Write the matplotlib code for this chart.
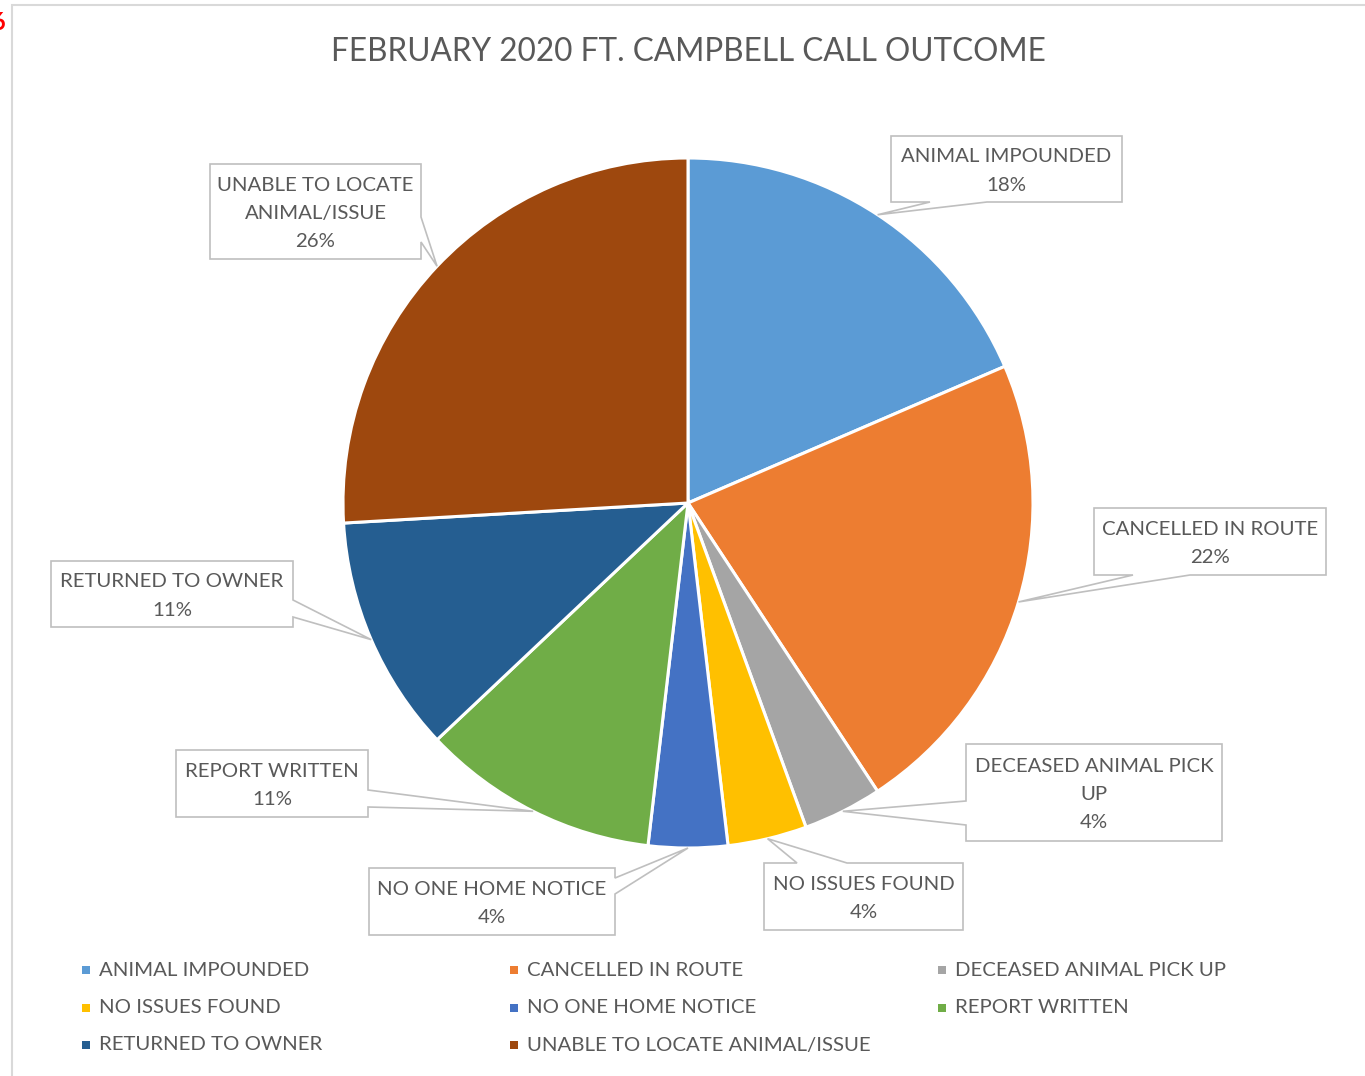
import matplotlib.pyplot as plt
from matplotlib.patches import Polygon, Rectangle
import numpy as np

# data
categories = [
    "ANIMAL IMPOUNDED",
    "CANCELLED IN ROUTE",
    "DECEASED ANIMAL PICK UP",
    "NO ISSUES FOUND",
    "NO ONE HOME NOTICE",
    "REPORT WRITTEN",
    "RETURNED TO OWNER",
    "UNABLE TO LOCATE ANIMAL/ISSUE",
]
counts = [5, 6, 1, 1, 1, 3, 3, 7]
pct_labels = ["18%", "22%", "4%", "4%", "4%", "11%", "11%", "26%"]
label_names = [
    "ANIMAL IMPOUNDED",
    "CANCELLED IN ROUTE",
    "DECEASED ANIMAL PICK\nUP",
    "NO ISSUES FOUND",
    "NO ONE HOME NOTICE",
    "REPORT WRITTEN",
    "RETURNED TO OWNER",
    "UNABLE TO LOCATE\nANIMAL/ISSUE",
]
colors = ["#5B9BD5", "#ED7D31", "#A5A5A5", "#FFC000",
          "#4472C4", "#70AD47", "#255E91", "#9E480E"]

# callout boxes (pixel layout): box, side of pointer, pointer base span
callouts = [
    ((891, 136, 1122, 202), "bottom", 930, 987),
    ((1094, 508, 1326, 575), "bottom", 1133, 1190),
    ((966, 744, 1222, 841), "left", 801, 825),
    ((764, 863, 963, 930), "top", 797, 847),
    ((369, 868, 615, 935), "right", 878, 894),
    ((176, 750, 368, 817), "right", 790, 807),
    ((51, 561, 293, 627), "right", 600, 617),
    ((210, 164, 421, 259), "right", 217, 242),
]

TEXT = "#595959"
FONT = "Lato"
W, H = 1365, 1076
CX, CY, R = 688, 503, 345


def callout_poly(box, side, lo, hi, apex):
    x0, y0, x1, y1 = box
    pts = [(x0, y0)]
    if side == "top":
        pts += [(lo, y0), apex, (hi, y0)]
    pts.append((x1, y0))
    if side == "right":
        pts += [(x1, lo), apex, (x1, hi)]
    pts.append((x1, y1))
    if side == "bottom":
        pts += [(hi, y1), apex, (lo, y1)]
    pts.append((x0, y1))
    if side == "left":
        pts += [(x0, hi), apex, (x0, lo)]
    return pts


def main():
    fig = plt.figure(figsize=(W / 100, H / 100), dpi=100)
    ax = fig.add_axes([0, 0, 1, 1])

    # work in pixel coordinates, y pointing down; so start at -90 and go
    # "counterclockwise" in data, which is clockwise on screen
    wedges, _ = ax.pie(
        counts,
        colors=colors,
        startangle=-90,
        counterclock=True,
        center=(CX, CY),
        radius=R,
        wedgeprops=dict(edgecolor="white", linewidth=2.2),
        frame=True,
    )
    ax.set_xlim(0, W)
    ax.set_ylim(H, 0)
    ax.set_aspect("equal")
    ax.axis("off")

    # callouts with leader pointing to the middle of each slice edge
    for w, (box, side, lo, hi), name, pct in zip(wedges, callouts, label_names, pct_labels):
        mid = np.deg2rad((w.theta1 + w.theta2) / 2)
        apex = (CX + R * np.cos(mid), CY + R * np.sin(mid))
        poly = Polygon(callout_poly(box, side, lo, hi, apex), closed=True,
                       facecolor="white", edgecolor="#BFBFBF", linewidth=1.2, zorder=5)
        ax.add_patch(poly)
        ax.text((box[0] + box[2]) / 2, (box[1] + box[3]) / 2 + 2, name + "\n" + pct,
                ha="center", va="center", fontsize=14.7, color=TEXT,
                family=FONT, linespacing=1.8, zorder=6)

    # title
    ax.text(688, 52, "FEBRUARY 2020 FT. CAMPBELL CALL OUTCOME", ha="center",
            va="center", fontsize=22.7, color=TEXT, family=FONT)

    # legend, 3 columns
    for i, (cat, col) in enumerate(zip(categories, colors)):
        lx = 82 + (i % 3) * 428
        ly = 970 + (i // 3) * 37.5
        ax.add_patch(Rectangle((lx, ly - 4), 8, 8, facecolor=col, edgecolor="none"))
        ax.text(lx + 17, ly, cat, ha="left", va="center", fontsize=14.7,
                color=TEXT, family=FONT)

    # chart area border and stray cell text (cut at the edge, as in the original)
    ax.plot([11.5, 11.5, W], [H, 5, 5], color="#D9D9D9", linewidth=1.5,
            solid_joinstyle="miter")
    ax.text(5.5, 22, "6", ha="right", va="center", fontsize=17,
            fontweight="bold", color="red", family=FONT)

    fig.savefig("out.png", dpi=100)


if __name__ == "__main__":
    main()
